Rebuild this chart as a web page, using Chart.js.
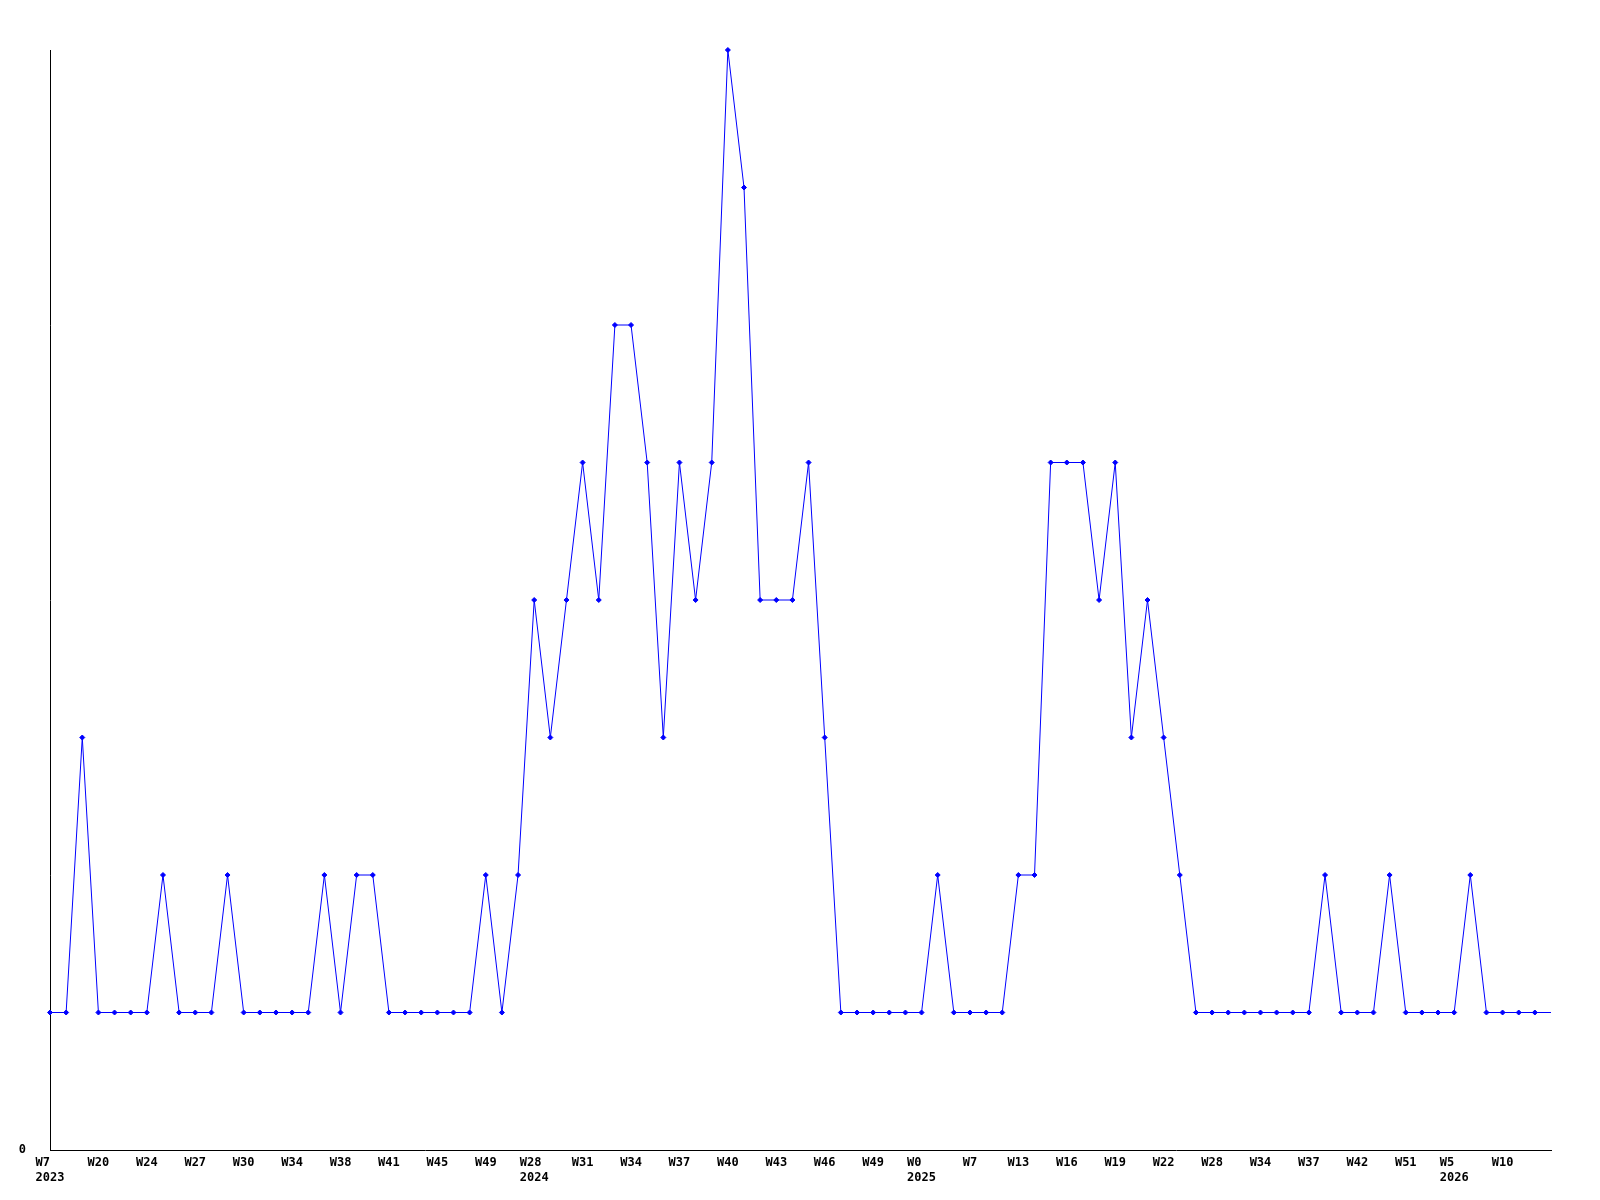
<!DOCTYPE html>
<html>
<head>
<meta charset="utf-8">
<script src="https://cdn.jsdelivr.net/npm/chart.js@4"></script>
<style>
    body { margin: 0; background: #ffffff; }
    canvas { display: block; }
</style>
</head>
<body>
<canvas id="chart" width="1600" height="1200"></canvas>
<script>
// Week labels shown under every third point
const weekLabels = [
    'W7', 'W20', 'W24', 'W27', 'W30', 'W34', 'W38', 'W41', 'W45', 'W49',
    'W28', 'W31', 'W34', 'W37', 'W40', 'W43', 'W46', 'W49',
    'W0', 'W7', 'W13', 'W16', 'W19', 'W22', 'W28', 'W34', 'W37', 'W42', 'W51',
    'W5', 'W10',
];
// Year shown under the week label at these label positions
const yearLabels = { 0: '2023', 10: '2024', 18: '2025', 29: '2026' };

const counts = [
    1, 1, 3, 1, 1, 1, 1, 2, 1, 1,
    1, 2, 1, 1, 1, 1, 1, 2, 1, 2,
    2, 1, 1, 1, 1, 1, 1, 2, 1, 2,
    4, 3, 4, 5, 4, 6, 6, 5, 3, 5,
    4, 5, 8, 7, 4, 4, 4, 5, 3, 1,
    1, 1, 1, 1, 1, 2, 1, 1, 1, 1,
    2, 2, 5, 5, 5, 4, 5, 3, 4, 3,
    2, 1, 1, 1, 1, 1, 1, 1, 1, 2,
    1, 1, 1, 2, 1, 1, 1, 1, 2, 1,
    1, 1, 1, 1,
];

const LABEL_STEP = 3;

const labels = counts.map((_, i) => {
    if (i % LABEL_STEP !== 0) return '';
    const k = i / LABEL_STEP;
    const week = weekLabels[k];
    if (week === undefined) return '';
    const year = yearLabels[k];
    // pad so the week line sits left-aligned over the year
    return year ? [week.padEnd(year.length, ' '), year] : week;
});

const tickFont = {
    family: '"DejaVu Sans Mono", monospace',
    size: 12,
    weight: 'bold',
    lineHeight: 1.28,
};

const ctx = document.getElementById('chart').getContext('2d');
new Chart(ctx, {
    type: 'line',
    data: {
        labels,
        datasets: [{
            data: counts,
            borderColor: '#0000ff',
            backgroundColor: '#0000ff',
            borderWidth: 1,
            tension: 0,
            fill: false,
            pointStyle: 'rectRot',
            pointRadius: (c) => (c.dataIndex === counts.length - 1 ? 0 : 2.5),
            pointBorderWidth: 1,
            pointBorderColor: '#0000ff',
            pointBackgroundColor: '#0000ff',
            clip: false,
        }],
    },
    options: {
        responsive: false,
        animation: false,
        layout: {
            padding: { top: 50, right: 49, bottom: 0, left: 0 },
        },
        plugins: {
            legend: { display: false },
            tooltip: { enabled: false },
        },
        scales: {
            x: {
                offset: false,
                grid: { display: false, drawTicks: false },
                border: { display: true, color: '#000000', width: 1 },
                ticks: {
                    autoSkip: false,
                    maxRotation: 0,
                    minRotation: 0,
                    padding: 5,
                    color: '#000000',
                    font: tickFont,
                },
                afterFit: (scale) => { scale.height = 50; },
            },
            y: {
                min: 0,
                max: 8,
                grid: { display: false, drawTicks: false },
                border: { display: true, color: '#000000', width: 1 },
                ticks: {
                    stepSize: 1,
                    padding: 24,
                    color: '#000000',
                    font: tickFont,
                    callback: (v) => (v === 0 ? '0' : ''),
                },
                afterFit: (scale) => { scale.width = 50; },
            },
        },
    },
});
</script>
</body>
</html>
